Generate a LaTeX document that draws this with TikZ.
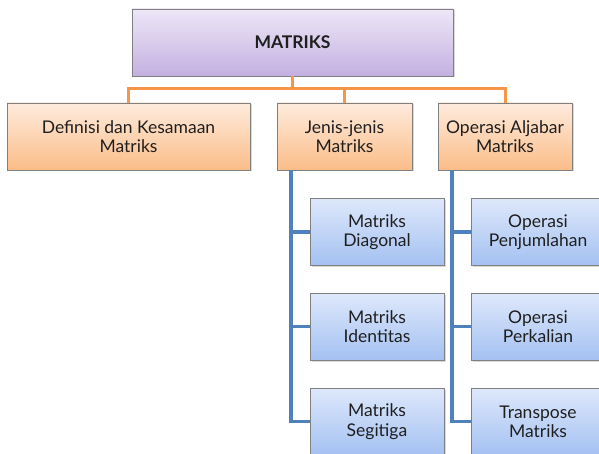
\documentclass[tikz,border=0pt]{standalone}
\usepackage{fontspec}
\setmainfont{Lato}
\usepackage{xcolor}
\usepackage{tikz}
\usetikzlibrary{
	calc,
	positioning,
	shadows
	}
\definecolor{ungu-atas}{HTML}{EDE7F7}
\definecolor{ungu-bawah}{HTML}{C4B0E1}
\definecolor{oranye-atas}{HTML}{FEEBDD}
\definecolor{oranye-bawah}{HTML}{FBBD88}
\definecolor{biru-atas}{HTML}{DEE8FB}
\definecolor{biru-bawah}{HTML}{A4C1F2}
\definecolor{garis-oranye}{HTML}{F79646}
\definecolor{garis-biru}{HTML}{4F81BD}
\definecolor{tepi}{HTML}{808080}
\definecolor{teks}{HTML}{1F1F1F}
\tikzstyle{kotak-std}=[draw=tepi,line width=0.8pt,align=center,text=teks,minimum height=67pt,inner sep=2pt,font=\fontsize{17.5}{19.5}\selectfont,drop shadow={shadow xshift=1.5pt,shadow yshift=-1.5pt,opacity=0.3}]
\tikzstyle{kotak-ungu}=[kotak-std,top color=ungu-atas,bottom color=ungu-bawah,minimum width=321pt,font=\fontsize{17.5}{20}\selectfont\bfseries]
\tikzstyle{kotak-oranye}=[kotak-std,top color=oranye-atas,bottom color=oranye-bawah]
\tikzstyle{kotak-biru}=[kotak-std,top color=biru-atas,bottom color=biru-bawah,minimum width=134pt]
\tikzstyle{garis-o}=[draw=garis-oranye,line width=3pt]
\tikzstyle{garis-b}=[draw=garis-biru,line width=3.2pt]

\begin{document}
\begin{tikzpicture}[x=1pt,y=1pt]
\useasboundingbox (0,0) rectangle (599,453);
\clip (0,0) rectangle (599,453);
\node[kotak-ungu] (matriks) at (292.5,410.5) {MATRIKS};

\node[kotak-oranye,minimum width=243pt] (definisi) at (128.5,316.5) {Definisi dan Kesamaan\\Matriks};
\node[kotak-oranye,minimum width=135pt] (jenis) at (344.5,316.5) {Jenis-jenis\\Matriks};
\node[kotak-oranye,minimum width=134pt] (operasi) at (505,316.5) {Operasi Aljabar\\Matriks};

\node[kotak-biru] (diagonal) at (377,221) {Matriks\\Diagonal};
\node[kotak-biru,below=27pt of diagonal] (identitas) {Matriks\\Identitas};
\node[kotak-biru,below=27pt of identitas] (segitiga) {Matriks\\Segitiga};

\node[kotak-biru] (jumlah) at (538,221) {Operasi\\Penjumlahan};
\node[kotak-biru,below=27pt of jumlah] (kali) {Operasi\\Perkalian};
\node[kotak-biru,below=27pt of kali] (transpose) {Transpose\\Matriks};

% garis oranye
\coordinate (bus) at (0,364);
\draw[garis-o] (matriks.south) -- (matriks.south |- bus);
\draw[garis-o] (definisi.north) |- (operasi.north |- bus) -- (operasi.north);
\draw[garis-o] (jenis.north) -- (jenis.north |- bus);

% garis biru
\coordinate (jtrunk) at (291,0);
\coordinate (otrunk) at (452,0);
\foreach \n in {diagonal,identitas,segitiga}
  \draw[garis-b] (jenis.south -| jtrunk) |- (\n.west);
\foreach \n in {jumlah,kali,transpose}
  \draw[garis-b] (operasi.south -| otrunk) |- (\n.west);
\end{tikzpicture}
\end{document}
